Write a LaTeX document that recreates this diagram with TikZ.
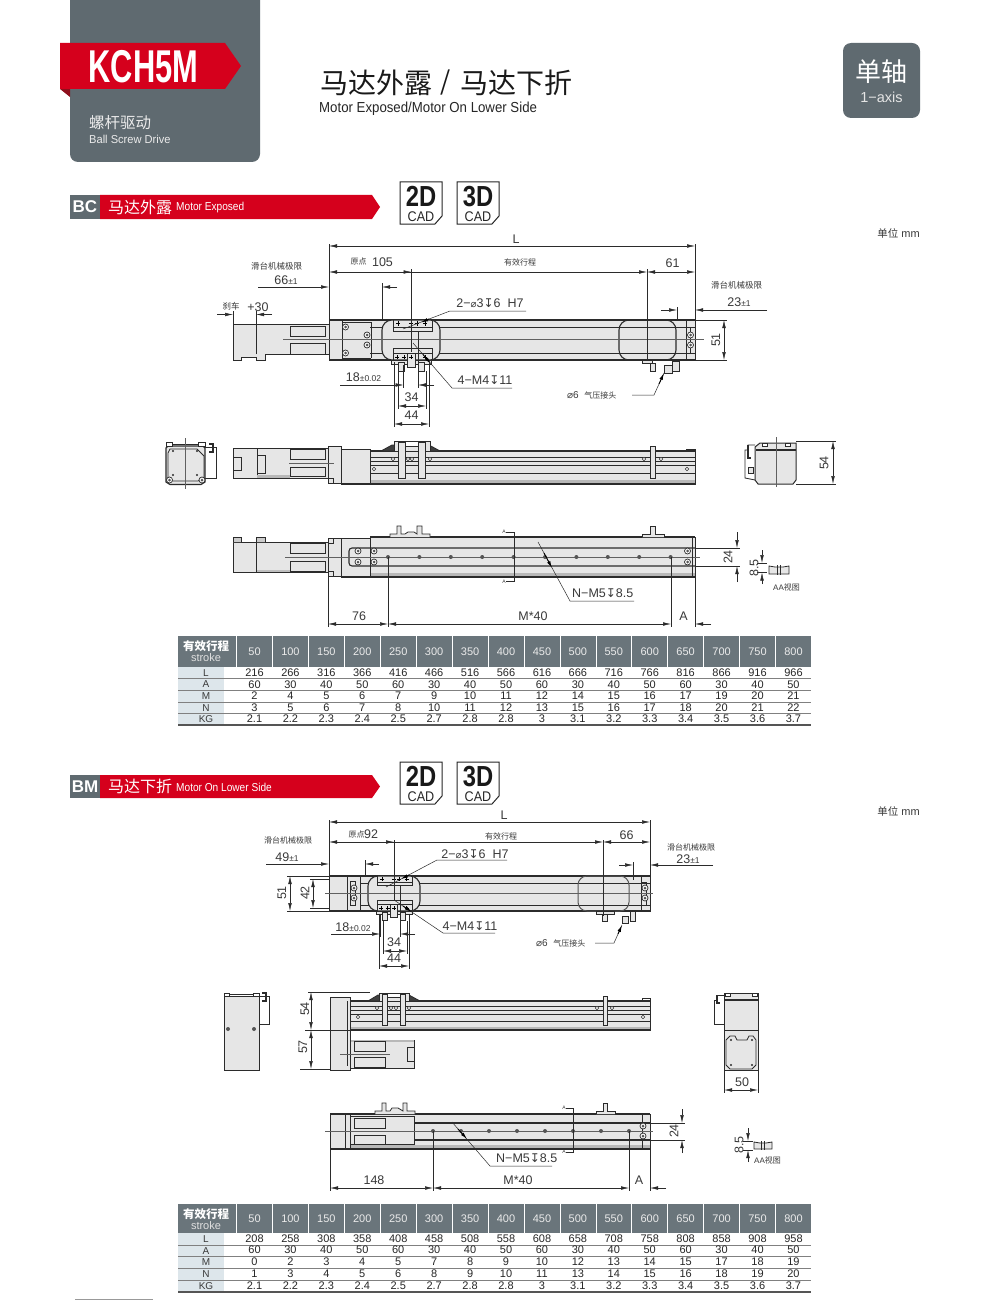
\documentclass[tikz,border=0pt]{standalone}
\usepackage{fontspec}
\usepackage{graphicx}
\usetikzlibrary{arrows.meta}
\setmainfont{Liberation Sans}
\newfontfamily\cjk{Noto Sans CJK SC}
\newfontfamily\djv{DejaVu Sans}
\definecolor{tile}{HTML}{5F6A70}
\definecolor{ribbon}{HTML}{D5001C}
\definecolor{ribbond}{HTML}{8E0F1C}
\definecolor{ink}{HTML}{2B2B2B}
\definecolor{txt}{HTML}{3A3A3A}
\definecolor{bodyg}{HTML}{E6E6E6}
\definecolor{rail}{HTML}{B8B8B8}
\definecolor{thead}{HTML}{6A757B}
\definecolor{tcol}{HTML}{DDE6EB}
\newcommand\fs[1]{\fontsize{#1}{#1}\selectfont}
\newcommand\plusmin[1]{{\fs{8.5}±#1}}
\newcommand\dep{{\djv\fs{12}↧}}
\newcommand\dia{{\djv\fs{10}⌀}}
\newcommand\cn[2]{{\cjk\fs{#1}#2}}
\tikzset{
 x=1pt,y=-1pt,
 lbl/.style={inner sep=0pt,text=txt,font=\fs{12.5}},
 part/.style={draw=ink,line width=.8pt,fill=bodyg},
 open/.style={draw=ink,line width=.8pt},
 heavy/.style={draw=ink,line width=1.3pt},
 fine/.style={draw=ink!75,line width=.5pt},
 dim/.style={draw=ink,line width=.5pt},
 dimin/.style={dim,-{Latex[length=8pt,width=3.6pt]}},
 dimio/.style={dim,{Latex[length=8pt,width=3.6pt]}-{Latex[length=8pt,width=3.6pt]}},
 leader/.style={draw=ink,line width=.5pt},
 leadtip/.style={draw=black,line width=.9pt,-{Latex[length=7pt,width=3.5pt]}},
}
\newcommand\lab[4][]{\node[lbl,#1] at (#2,#3) {#4};}
\newcommand\mkhole[2]{\fill[ink!80] (#1,#2) circle (2pt);}
\newcommand\mkscrew[2]{\draw[draw=ink,line width=.7pt,fill=white] (#1,#2) circle (3pt);\fill[ink!80] (#1,#2) circle (1.5pt);}
\newcommand\mkslot[2]{\draw[draw=ink,line width=.6pt,fill=white] (#1,#2) circle (1.8pt);}
\newcommand\mkcross[2]{\draw[draw=black,line width=.9pt] (#1-2.2,#2) -- (#1+2.2,#2) (#1,#2-2.2) -- (#1,#2+2.2);}
\newcommand\cadicon[3]{%
 \draw[draw=black!85,line width=1pt,fill=white] (#1,#2) -- (#1+42,#2) -- (#1+42,#2+34) -- (#1+35,#2+42) -- (#1,#2+42) -- cycle;
 \node[inner sep=0pt,text=black!90,font=\bfseries\fs{29}] at (#1+21,#2+14.5) {\scalebox{.82}[1]{#3}};
 \node[inner sep=0pt,text=black!85,font=\fs{14}] at (#1+21,#2+34.5) {\scalebox{.9}[1]{CAD}};}
% top-view carriage in local coordinates, 58 x 40
\newcommand\topcar[4]{\begin{scope}[shift={(#1,#2)},xscale=#3/58,yscale=#4/40]
 \draw[draw=ink,line width=1.1pt,fill=bodyg,rounded corners=10pt] (0,0) rectangle (58,40);
 \draw[open,fill=bodyg] (11,7) rectangle (50,11);
 \draw[open] (11,0) -- (11,7) (50,0) -- (50,7);
 \draw[open,fill=bodyg] (11,28) rectangle (50,33);
 \draw[open] (11,33) -- (11,40) (50,33) -- (50,40);
 \mkcross{16}{3.5}\mkcross{29}{3.5}\mkcross{35}{3.5}\mkcross{43}{3.5}
 \mkcross{15}{37}\mkcross{22}{37}\mkcross{43}{37}
 \draw[draw=ink,line width=.8pt,fill=bodyg] (9,40) rectangle (49,44);
 \draw[draw=ink,line width=.8pt,fill=bodyg] (16,42) rectangle (22,51);
 \draw[draw=ink,line width=.8pt,fill=bodyg] (36,42) rectangle (42,51);
 \draw[draw=ink,line width=.8pt,fill=bodyg] (25,33) rectangle (33,47);
 \mkcross{29}{37}
\end{scope}}
\newcommand\spectable[3]{% #1 top, #2 header bottom, #3 row pitch
 \fill[thead] (178,#1) rectangle (811,#2);
 \foreach \i in {1,...,16} \draw[white,line width=.6pt] (236.5+35.93*\i-35.93,#1) -- (236.5+35.93*\i-35.93,#2);
 \fill[tcol] (178,#2) rectangle (224,#2+5*#3);
 \foreach \j in {1,...,4} \draw[draw=ink!60,line width=.5pt] (178,#2+\j*#3) -- (811,#2+\j*#3);
 \draw[draw=ink!80,line width=1.1pt] (178,#2+5*#3) -- (811,#2+5*#3);
 \node[inner sep=0pt,text=white,font=\bfseries] at (206,#1+10) {\cn{11.5}{有效行程}};
 \node[inner sep=0pt,text=white!88!black,font=\fs{11}] at (206,#1+22) {stroke};
 \foreach \t [count=\i] in {50,100,150,200,250,300,350,400,450,500,550,600,650,700,750,800}
  \node[inner sep=0pt,text=white!92!black,font=\fs{11}] at (254.5+35.93*\i-35.93,{(#1+#2)/2}) {\t};
 \foreach \t [count=\j] in {L,A,M,N,KG}
  \node[inner sep=0pt,text=txt,font=\fs{10}] at (206,#2+\j*#3-#3/2) {\t};
}
\newcommand\tablerow[2]{% #1 y, #2 values
 \foreach \t [count=\i] in {#2}
  \node[inner sep=0pt,text=black!85,font=\fs{11}] at (254.5+35.93*\i-35.93,#1) {\t};
}
\begin{document}
\begin{tikzpicture}
\useasboundingbox (0,0) rectangle (1000,1300);
\fill[white] (0,0) rectangle (1000,1300);
% ---- header
\fill[tile] (70,0) {[rounded corners=8pt] -- (70,162) -- (260,162)} -- (260,0) -- cycle;
\fill[ribbond] (60,89) -- (70,97) -- (70,89) -- cycle;
\fill[ribbon] (60,43) -- (225,43) -- (241,66) -- (225,89) -- (60,89) -- cycle;
\node[inner sep=0pt,text=white,font=\bfseries\fs{46}] (kch) at (143.5,67) {\scalebox{.67}[1]{KCH5M}};
\node[inner sep=0pt,text=white!92!black,anchor=west] (kcn) at (89,122.5) {\cn{15.5}{螺杆驱动}};
\node[inner sep=0pt,text=white!92!black,anchor=west,font=\fs{11.5}] (ken) at (89,139) {\scalebox{.965}[1]{Ball Screw Drive}};
\node[inner sep=0pt,text=black!90,anchor=west] (titlea) at (320,82.5) {\cn{28}{马达外露}};
\node[inner sep=0pt,text=black!90] (titleb) at (446,82.5) {\cn{26}{/}};
\node[inner sep=0pt,text=black!90,anchor=west] (titlec) at (460,82.5) {\cn{28}{马达下折}};
\node[inner sep=0pt,text=black!85,anchor=west,font=\fs{14.5}] (titleen) at (319,108.5) {\scalebox{.913}[1]{Motor Exposed/Motor On Lower Side}};
\fill[tile,rounded corners=8pt] (843,43) rectangle (920,118);
\node[inner sep=0pt,text=white] (axiscn) at (881.5,72) {\cn{26}{单轴}};
\node[inner sep=0pt,text=white!90!black,font=\fs{14.5}] (axisen) at (881.5,97) {1−axis};
% section bars
\fill[tile] (70,195) rectangle (100,219);
\fill[ribbon] (100,195) -- (372,195) -- (380,207) -- (372,219) -- (100,219) -- cycle;
\node[inner sep=0pt,text=white,font=\bfseries\fs{17}] (bc) at (85,207) {BC};
\node[inner sep=0pt,text=white,anchor=west] (bccn) at (108,207) {\cn{16}{马达外露}};
\node[inner sep=0pt,text=white,anchor=west,font=\fs{11.5}] (bcen) at (176,207.5) {\scalebox{.88}[1]{Motor Exposed}};
\cadicon{400}{182}{2D}\cadicon{457}{182}{3D}
\fill[tile] (70,775) rectangle (100,798);
\fill[ribbon] (100,775) -- (372,775) -- (380,786.5) -- (372,798) -- (100,798) -- cycle;
\node[inner sep=0pt,text=white,font=\bfseries\fs{17}] (bm) at (85,786.5) {BM};
\node[inner sep=0pt,text=white,anchor=west] (bmcn) at (108,786.5) {\cn{16}{马达下折}};
\node[inner sep=0pt,text=white,anchor=west,font=\fs{11.5}] (bmen) at (176,787) {\scalebox{.88}[1]{Motor On Lower Side}};
\cadicon{400}{762}{2D}\cadicon{457}{762}{3D}
\lab[anchor=east]{920}{233}{\cn{10.5}{单位}\fs{11} mm}
\lab[anchor=east]{920}{811}{\cn{10.5}{单位}\fs{11} mm}

% ======== BC top view
\draw[part] (233,324) rectangle (329,354);
\draw[part] (233,354) -- (233,360) -- (241,360) -- (241,357) -- (256,357)-- (256,360) -- (265,360) -- (265,354);
\draw[open] (256,324) -- (256,354);
\draw[part] (290,326) rectangle (325,336);
\draw[part] (290,343) rectangle (325,354);
\draw[part] (329,320) rectangle (695,360);
\draw[open] (342,320) -- (342,360) (371,322) -- (371,358) (342,322) -- (371,322) (342,358) -- (371,358);
\draw[open] (370,327) -- (695,327) (370,353) -- (695,353);
\draw[heavy] (329,320) -- (695,320) (329,360) -- (695,360);
\mkscrew{345.5}{327}\mkscrew{345.5}{353}\mkscrew{367}{335}\mkscrew{367}{345}
\topcar{382}{320}{58}{40}
\draw[draw=ink,line width=1.1pt,rounded corners=10pt] (619,320) rectangle (676,360);
\draw[open] (686,320) -- (686,360) (690,327) -- (690,353) (686,327) -- (690,327) (686,353) -- (690,353);
\mkscrew{690.5}{335}\mkscrew{690.5}{345}
\draw[part] (642,360) rectangle (652,363);\draw[part] (650,363) rectangle (655,371);
\draw[part] (664,365) rectangle (672,373);\draw[part] (672,361) rectangle (679,371);
\draw[fine] (283,339.5) -- (704,339.5);
% BC top dimensions
\draw[dim] (329,244) -- (329,320) (695,244) -- (695,320);
\draw[dimio] (329,246) -- (695,246);
\lab{516}{239}{L}
\draw[dim] (411.5,269) -- (411.5,352) (647,269) -- (647,360);
\draw[dimin] (419,272) -- (329,272);
\draw[dimin] (403,272) -- (411.5,272);
\draw[dim] (419,272) -- (639,272);
\draw[dimin] (639,272) -- (647,272);
\draw[dimin] (655,272) -- (647,272);
\draw[dimin] (655,272) -- (695,272);
\lab{358.5}{261}{\cn{8}{原点}}\lab{382.5}{262}{105}
\lab{520}{262}{\cn{8}{有效行程}}\lab{672.5}{263.5}{61}
\lab{276.5}{266}{\cn{8.5}{滑台机械极限}}\lab{286}{280.5}{66\plusmin{1}}
\draw[dimin] (258,287) -- (329,287);
\draw[dimin] (397,287) -- (382,287);
\draw[dim] (382,283) -- (382,320);
\lab{231}{306}{\cn{8.5}{刹车}}\lab{258}{307}{+30}
\draw[dimin] (217,314.5) -- (233,314.5);
\draw[dimin] (272,314.5) -- (256,314.5);
\draw[dim] (233,311) -- (233,324) (256,311) -- (256,324);
\lab{490}{303}{2−\dia3\dep6\ \ H7}
\draw[leader] (403,329) -- (450,311) -- (526,311);
\draw[leadtip] (429,319) -- (421,322.5);
\lab{485}{380}{4−M4\dep11}
\draw[leader] (413,343) -- (452,388) -- (512,388);
\draw[leadtip] (423,354.5) -- (431,364);
\lab{363.5}{377}{18\plusmin{0.02}}
\draw[dimin] (340,385) -- (403.5,385);
\draw[dimin] (434,385) -- (418,385);
\draw[dim] (403.5,365) -- (403.5,388) (418,331) -- (418,388);
\draw[dimio] (398,406) -- (426,406);\lab{411.5}{397}{34}
\draw[dimio] (394,424) -- (429,424);\lab{411.5}{415}{44}
\draw[dim] (398,371) -- (398,409) (426,371) -- (426,409) (394,362) -- (394,427) (429,362) -- (429,427);
\draw[dim] (695,320) -- (727,320) (695,360) -- (727,360);
\draw[dimio] (724,320) -- (724,360);
\lab[rotate=90]{716}{340}{51}
\lab{736.5}{285}{\cn{8.5}{滑台机械极限}}\lab{739}{302}{23\plusmin{1}}
\draw[dimin] (661,310) -- (677,310);
\draw[dimin] (767,310) -- (695,310);
\draw[dim] (677,307) -- (677,320);
\lab[anchor=west]{567}{395}{\dia\fs{10}6\ \ \cn{8}{气压接头}}
\draw[leader] (632,395) -- (654,395) -- (664,373);
\draw[leadtip] (659,384) -- (664,373);

% ======== BC side view
\draw[open,fill=white] (205,447) -- (216,447) -- (216,478) -- (205,478);
\draw[heavy] (209,444) -- (213,444) -- (213,452) -- (209,452);
\draw[draw=ink,line width=1.2pt,fill=bodyg] (168,446) -- (203,446) -- (205,448) -- (205,482) -- (201,484.5) -- (170,484.5) -- (166,482) -- (166,448) -- cycle;
\draw[open,fill=white] (166,442) rectangle (172,446) (198,442) rectangle (205,446);
\draw[open] (172,444) -- (198,444);
\draw[open] (170,449) -- (197,449) -- (204,456) -- (204,478) -- (198,481) -- (172,481) -- (168,478) -- (168,453) -- cycle;
\foreach \a/\b in {173/451,197/451,173/475,197/475}{\fill[ink] (\a,\b) circle (1.2pt);}
\mkscrew{169.5}{480}\mkscrew{202}{480}
\draw[fine] (185,438) -- (185,489);
\draw[part] (233,448) rectangle (329,478);
\draw[open] (257,448) -- (257,478) (241,457) -- (233,457) (241,457) -- (241,470) -- (233,470) (257,455) -- (265,455) -- (265,473) -- (257,473);
\fill[rail] (257,475) rectangle (290,478);
\draw[part] (290,449) rectangle (325,459);\draw[part] (290,467) rectangle (325,476);
\draw[part] (328,446) rectangle (341.5,483);
\draw[part] (328,478) rectangle (333,483);
\draw[part] (341.5,449) rectangle (370,484);
\draw[part] (370,451) rectangle (695,484);
\fill[rail] (371,480) rectangle (695,483);
\draw[open] (370,457) -- (695,457) (370,461) -- (695,461) (370,465) -- (695,465) (370,473) -- (695,473);
\draw[heavy] (370,451) -- (695,451) (341,484) -- (695,484);
\draw[open] (686,449) -- (695,449) -- (695,484);
\draw[open] (686,449) -- (686,451);
\draw[open,fill=black!75] (381,451) -- (392,445) -- (398,445) -- (398,451) -- cycle;
\draw[open,fill=black!75] (440,451) -- (429,445) -- (425,445) -- (425,451) -- cycle;
\draw[part] (394,441) rectangle (430,451);
\draw[open,fill=white] (405,441) rectangle (418,446);
\draw[part] (398,442) rectangle (405,478);
\draw[part] (418,442) rectangle (425,478);
\foreach \a in {393,408,412,430}{\mkslot{\a}{459}}
\mkslot{374}{469}\mkslot{687}{469}
\draw[part] (650,446) rectangle (655,478);
\mkslot{644}{459}\mkslot{661}{459}
\draw[fine] (289,463) -- (334,463);
% BC right end view
\draw[open,fill=white] (755,445) -- (748,445) -- (748,450) -- (745,450) -- (745,478) -- (755,480);
\draw[heavy] (748,445) -- (748,458) -- (751,458);
\draw[part] (748,467) rectangle (753,473);
\draw[draw=ink,line width=1pt,fill=bodyg] (755,447) -- (755,480) -- (758,484) -- (793,484) -- (796,480) -- (796,443) -- (760,443) -- cycle;
\draw[heavy] (756,450) -- (796,450);
\draw[open,fill=white] (762,443) rectangle (767,446) (785,443) rectangle (790,446);
\draw[fine] (776,437) -- (776,487);
\draw[dim] (796,441) -- (836,441) (796,484) -- (836,484);
\draw[dimio] (833,441) -- (833,484);
\lab[rotate=90]{824}{463}{54}

% ======== BC bottom view
\draw[part] (233,542) rectangle (329,572);
\draw[open,fill=gray!40] (233,542) -- (233,537) -- (241,537) -- (241,542) (256,542) -- (256,537) -- (265,537) -- (265,542);
\draw[open] (256,542) -- (256,572);
\fill[gray!50] (257,569.5) rectangle (290,572);
\draw[part] (290,543) rectangle (325,553);\draw[part] (290,561) rectangle (325,571);
\draw[part] (328,538) rectangle (341,576);
\draw[part] (328,538) rectangle (333,543);\draw[part] (328,571) rectangle (333,576);
\draw[part] (341,538) rectangle (370,577);
\draw[part] (370,537) rectangle (695,577);
\fill[rail] (371,573) rectangle (695,576);
\draw[heavy] (370,537) -- (695,537) (341,577) -- (695,577);
\draw[draw=ink,line width=1.1pt,rounded corners=3pt] (695,548) -- (349,548) -- (349,566) -- (695,566);
\draw[open,fill=bodyg] (390,537) -- (390,534) -- (397,534) -- (397,526) -- (401,526) -- (401,534) -- (405,534) -- (408,532) -- (414,532) -- (417,534) -- (417,526) -- (422,526) -- (422,534) -- (430,534) -- (430,537);
\draw[open,fill=bodyg] (642,537) -- (642,534) -- (650,534) -- (650,526) -- (655,526) -- (655,534) -- (664,534) -- (664,537);
\draw[fine] (285,557) -- (700,557);
\draw[open] (692,537) -- (692,577);
\mkscrew{358}{551}\mkscrew{374}{551}\mkscrew{358}{562}\mkscrew{374}{562}
\mkscrew{687.5}{551}\mkscrew{687.5}{562}
\foreach \i in {0,...,9}{\mkhole{388+31.4*\i}{557}}
\draw[dim] (503,532) -- (514.7,532) -- (514.7,581.5) -- (503,581.5);
\lab[fill=white]{504}{532}{\fs{5}A}\lab[fill=white]{504}{581.5}{\fs{5}A}
\draw[dim] (695,548) -- (740,548) (695,566) -- (740,566);
\draw[dimin] (737,532) -- (737,548);\draw[dimin] (737,582) -- (737,566);
\lab[rotate=90]{728}{557}{24}
\draw[dimin] (762,550) -- (762,563);\draw[dimin] (762,584) -- (762,572.5);
\draw[dim] (757,563) -- (767,563) (757,572.5) -- (767,572.5);
\lab[rotate=90]{754}{568}{8.5}
\draw[open,fill=bodyg] (769,566) -- (775,567) -- (783,567) -- (789,566) -- (789,574) -- (769,574) -- cycle;
\draw[draw=ink,line width=.8pt] (777,565) -- (777,575) (780,565) -- (780,575);
\lab{786.5}{587}{\fs{8}AA\cn{8}{视图}}
\lab[anchor=west]{572}{593}{N−M5\dep8.5}
\draw[leader] (538,542) -- (570,601) -- (634,601);
\draw[leadtip] (544,553) -- (552,568);
\draw[dim] (328,577) -- (328,627) (388,557) -- (388,627) (671,557) -- (671,627) (695,577) -- (695,627);
\draw[dimio] (328,624) -- (388,624);
\draw[dimin] (396,624) -- (388,624);
\draw[dim] (396,624) -- (663,624);
\draw[dimin] (663,624) -- (671,624);
\draw[dimin] (711,624) -- (695,624);
\lab{359}{616}{76}\lab{533}{616}{M*40}\lab{683.5}{616}{A}
% table 1
\spectable{636}{667}{11.6}
\tablerow{673}{216,266,316,366,416,466,516,566,616,666,716,766,816,866,916,966}
\tablerow{684.5}{60,30,40,50,60,30,40,50,60,30,40,50,60,30,40,50}
\tablerow{696}{2,4,5,6,7,9,10,11,12,14,15,16,17,19,20,21}
\tablerow{707.5}{3,5,6,7,8,10,11,12,13,15,16,17,18,20,21,22}
\tablerow{719}{2.1,2.2,2.3,2.4,2.5,2.7,2.8,2.8,3,3.1,3.2,3.3,3.4,3.5,3.6,3.7}

% ======== BM top view
\draw[part] (329,876) rectangle (650,911);
\draw[open] (360,883) -- (650,883) (360,905) -- (650,905);
\draw[open] (347,877) -- (347,911) (350,881) rectangle (355,905);
\mkscrew{354}{888}\mkscrew{354}{898}
\draw[open] (360,876) -- (360,911);
\draw[heavy] (329,876) -- (650,876) (329,911) -- (650,911);
\topcar{368}{876}{52}{35}
\draw[draw=ink!80,line width=1pt,rounded corners=9pt] (578,876) rectangle (629,911);
\draw[open] (641,876) -- (641,911) (641,882) -- (646,882) -- (646,905) -- (641,905);
\mkscrew{645}{888}\mkscrew{645}{898}
\draw[part] (596,911) rectangle (614,914);\draw[part] (602,914) rectangle (607,921);
\draw[part] (622,916) rectangle (628,923);\draw[part] (630,911) rectangle (635,921);
\draw[fine] (325,893.5) -- (653,893.5);
% BM top dimensions
\draw[dim] (329,820) -- (329,876) (650,820) -- (650,876);
\draw[dimio] (329,822) -- (650,822);
\lab{504}{815}{L}
\draw[dim] (394,840) -- (394,900) (603,840) -- (603,916);
\draw[dimin] (402,842) -- (329,842);
\draw[dimin] (386,842) -- (394,842);
\draw[dim] (402,842) -- (595,842);
\draw[dimin] (595,842) -- (603,842);
\draw[dimin] (611,842) -- (603,842);
\draw[dimin] (611,842) -- (650,842);
\lab{356.5}{834}{\cn{8}{原点}}\lab{371}{834}{92}
\lab{501}{836}{\cn{8}{有效行程}}\lab{626.5}{835}{66}
\lab{288}{840}{\cn{8}{滑台机械极限}}\lab{287}{857}{49\plusmin{1}}
\draw[dimin] (266,864) -- (329,864);
\draw[dimin] (379,864) -- (365,864);
\draw[dim] (365,860) -- (365,876);
\draw[dim] (287,876) -- (329,876) (287,911) -- (329,911) (310,879) -- (329,879) (310,908) -- (329,908);
\draw[dimio] (290,876) -- (290,911);\draw[dimio] (313,879) -- (313,908);
\lab[rotate=90]{282}{893}{51}\lab[rotate=90]{305}{893}{42}
\lab{475}{854}{2−\dia3\dep6\ \ H7}
\draw[leader] (386,887) -- (437,860) -- (507,860);
\draw[leadtip] (409,875) -- (401,879);
\lab{470}{926}{4−M4\dep11}
\draw[leader] (394,900) -- (443,933) -- (495,933);
\draw[leadtip] (403,906) -- (412,912);
\lab{353}{927}{18\plusmin{0.02}}
\draw[dimin] (331,934) -- (380,934);
\draw[dimin] (415,934) -- (400,934);
\draw[dim] (380,915) -- (380,937) (400,885) -- (400,937);
\draw[dimio] (383,951) -- (407,951);\lab{394}{942}{34}
\draw[dimio] (379,966) -- (409,966);\lab{394}{958}{44}
\draw[dim] (383,921) -- (383,954) (407,921) -- (407,954) (379,915) -- (379,969) (409,915) -- (409,969);
\lab{691}{847}{\cn{8}{滑台机械极限}}\lab{688}{859}{23\plusmin{1}}
\draw[dimin] (619,865) -- (633,865);
\draw[dimin] (713,865) -- (650,865);
\draw[dim] (633,862) -- (633,880);
\lab[anchor=west]{536}{943}{\dia\fs{10}6\ \ \cn{8}{气压接头}}
\draw[leader] (595,943) -- (614,943) -- (622,925);
\draw[leadtip] (618,934) -- (622,925);

% ======== BM side and end views
\draw[open,fill=white] (259,996) -- (269,996) -- (269,1024) -- (259,1024);
\draw[heavy] (262,993) -- (266,993) -- (266,1001) -- (262,1001);
\draw[part] (224,996) rectangle (259,1070);
\draw[open,fill=white] (224,993) rectangle (229,996) (253,993) rectangle (259,996);
\draw[open] (229,994) -- (253,994);
\mkhole{228}{1029}\mkhole{254}{1029}
\draw[part] (350,1001) rectangle (650,1030);
\fill[rail] (351,1026.5) rectangle (650,1029.5);
\draw[open] (350,1006) -- (650,1006) (350,1010) -- (650,1010) (350,1014) -- (650,1014) (350,1021) -- (650,1021);
\draw[heavy] (350,1001) -- (650,1001) (350,1030) -- (650,1030);
\draw[open] (642,998) -- (650,998) -- (650,1030) (642,998) -- (642,1001);
\draw[open,fill=black!75] (368,1001) -- (378,995) -- (382,995) -- (382,1001) -- cycle;
\draw[open,fill=black!75] (420,1001) -- (409,995) -- (405,995) -- (405,1001) -- cycle;
\draw[part] (379,993) rectangle (409,1001);
\draw[open,fill=white] (387,993) rectangle (400,997);
\draw[part] (382,994) rectangle (387,1025);\draw[part] (400,994) rectangle (405,1025);
\foreach \a in {377,391,396,409}{\mkslot{\a}{1008}}
\mkslot{358}{1017}\mkslot{643}{1017}
\draw[part] (603,996) rectangle (607,1025);
\mkslot{597}{1008}\mkslot{612}{1008}
\draw[part] (350,1040) rectangle (414,1068);
\fill[rail] (350,1040) rectangle (414,1041.5);
\draw[part] (354,1041) rectangle (385,1051);\draw[part] (354,1057) rectangle (385,1067);
\draw[open] (407,1047) rectangle (414,1061);
\draw[draw=ink,line width=1pt,fill=bodyg] (330,997) rectangle (350,1070);
\draw[open] (347,1001) -- (347,1066);
\draw[fine] (340,1054) -- (390,1054);
\draw[dim] (308,992) -- (370,992) (305,1030) -- (350,1030) (300,1069) -- (330,1069);
\draw[dimio] (311,992) -- (311,1030);\draw[dimio] (311,1030) -- (311,1069);
\lab[rotate=90]{305}{1009}{54}\lab[rotate=90]{303}{1047}{57}
% BM right end view
\draw[open,fill=white] (724,995) -- (717,995) -- (717,1000) -- (714,1000) -- (714,1024) -- (724,1024);
\draw[heavy] (717,995) -- (717,1003) -- (720,1003);
\draw[draw=ink,line width=.9pt,fill=bodyg] (724,993) rectangle (758,1070);
\draw[heavy] (724,1000) -- (758,1000);
\draw[open] (724,1030) -- (758,1030);
\draw[open,fill=white] (725,993) rectangle (730,996) (752,993) rectangle (757,996);
\draw[draw=ink,line width=.8pt] (730,1036) -- (735,1036) -- (737,1040) -- (747,1040) -- (749,1036) -- (753,1036) -- (756,1040) -- (756,1065) -- (752,1069) -- (730,1069) -- (726,1065) -- (726,1040) -- cycle;
\foreach \a/\b in {731/1040,752/1040,731/1065,752/1065}{\fill[ink] (\a,\b) circle (1.2pt);}
\draw[dim] (724,1070) -- (724,1093) (758,1070) -- (758,1093);
\draw[dimio] (724,1090) -- (758,1090);
\lab{742}{1082}{50}

% ======== BM bottom view
\draw[part] (350,1114) rectangle (650,1149);
\fill[rail] (351,1145) rectangle (650,1148);
\draw[draw=ink,line width=1.1pt] (350,1123) -- (650,1123) (350,1140) -- (650,1140);
\draw[open,fill=bodyg] (350,1116) rectangle (414,1144);
\draw[part] (354,1118) rectangle (385,1128);\draw[part] (354,1135) rectangle (385,1144);
\draw[draw=ink,line width=1pt,fill=bodyg] (330,1114) rectangle (350,1149);
\draw[open] (345,1114) -- (345,1149);
\draw[heavy] (330,1114) -- (650,1114) (330,1149) -- (650,1149);
\draw[open,fill=bodyg] (375,1114) -- (375,1111) -- (382,1111) -- (382,1103) -- (386,1103) -- (386,1111) -- (390,1111) -- (392,1108) -- (398,1108) -- (403,1111) -- (403,1103) -- (407,1103) -- (407,1111) -- (415,1111) -- (415,1114);
\draw[open,fill=bodyg] (596,1114) -- (596,1111) -- (603,1111) -- (603,1103) -- (607,1103) -- (607,1111) -- (615,1111) -- (615,1114);
\draw[open] (642,1114) -- (642,1149) (650,1114) -- (650,1149);
\draw[fine] (325,1131) -- (653,1131);
\foreach \i in {0,...,7}{\mkhole{433+28*\i}{1131}}
\mkscrew{643}{1126}\mkscrew{643}{1136}
\draw[dim] (562,1108) -- (573,1108) -- (573,1152) -- (562,1152);
\lab[fill=white]{564}{1108}{\fs{5}A}\lab[fill=white]{564}{1152}{\fs{5}A}
\draw[dim] (650,1123) -- (685,1123) (650,1140) -- (685,1140);
\draw[dimin] (682,1109) -- (682,1123);\draw[dimin] (682,1153) -- (682,1140);
\lab[rotate=90]{674}{1131}{24}
\draw[dimin] (748,1128) -- (748,1141);\draw[dimin] (748,1162) -- (748,1150);
\draw[dim] (743,1141) -- (753,1141) (743,1150) -- (753,1150);
\lab[rotate=90]{739}{1145}{8.5}
\draw[open,fill=bodyg] (754,1142) -- (760,1143) -- (766,1143) -- (772,1142) -- (772,1149) -- (754,1149) -- cycle;
\draw[draw=ink,line width=.8pt] (761,1141) -- (761,1150) (764,1141) -- (764,1150);
\lab{767.5}{1160}{\fs{8}AA\cn{8}{视图}}
\lab[anchor=west]{496}{1158}{N−M5\dep8.5}
\draw[leader] (452,1122) -- (490,1166) -- (552,1166);
\draw[leadtip] (458,1129) -- (467,1139);
\draw[dim] (330,1149) -- (330,1191) (433,1131) -- (433,1191) (629,1131) -- (629,1191) (650,1149) -- (650,1191);
\draw[dimio] (330,1188) -- (433,1188);
\draw[dimin] (441,1188) -- (433,1188);
\draw[dim] (441,1188) -- (621,1188);
\draw[dimin] (621,1188) -- (629,1188);
\draw[dimin] (666,1188) -- (650,1188);
\lab{374}{1180}{148}\lab{518}{1180}{M*40}\lab{639}{1180}{A}
% table 2
\spectable{1204}{1233}{11.8}
\tablerow{1238.5}{208,258,308,358,408,458,508,558,608,658,708,758,808,858,908,958}
\tablerow{1250}{60,30,40,50,60,30,40,50,60,30,40,50,60,30,40,50}
\tablerow{1262}{0,2,3,4,5,7,8,9,10,12,13,14,15,17,18,19}
\tablerow{1274}{1,3,4,5,6,8,9,10,11,13,14,15,16,18,19,20}
\tablerow{1285.5}{2.1,2.2,2.3,2.4,2.5,2.7,2.8,2.8,3,3.1,3.2,3.3,3.4,3.5,3.6,3.7}
\draw[draw=black!40,line width=.8pt] (75,1299.5) -- (153,1299.5);
\end{tikzpicture}
\end{document}
